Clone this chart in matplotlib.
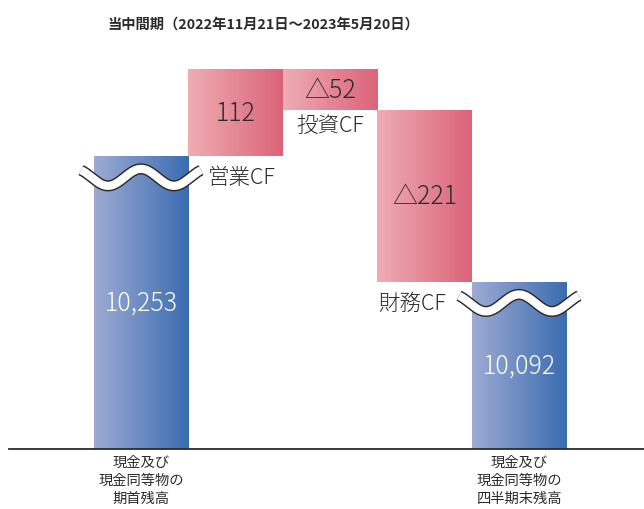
import numpy as np
import matplotlib
matplotlib.use('Agg')
import matplotlib.pyplot as plt
from matplotlib.colors import LinearSegmentedColormap

plt.rcParams['font.family'] = ['Noto Sans CJK JP', 'DejaVu Sans']

# data
title = '当中間期（2022年11月21日～2023年5月20日）'
open_balance = 10253
close_balance = 10092
flow_names = ['営業CF', '投資CF', '財務CF']
flow_values = [112, -52, -221]
end_labels = ['現金及び\n現金同等物の\n期首残高', '現金及び\n現金同等物の\n四半期末残高']

blue = ('#9eabd3', '#3b6cb0')
pink = ('#efadb3', '#db6379')
dark = '#2b2b2b'

# layout (pixels of a 644x510 image)
W, H = 644, 510
ppu = 0.78          # pixels per unit on the broken axis
top_px = 70         # pixel row of the highest cumulative value
base_px = 450
x0_px, step_px = 141, 94.5

fig = plt.figure(figsize=(W / 100, H / 100), dpi=100)
ax = fig.add_axes([0, 0, 1, 1])
ax.axis('off')

cum = np.cumsum([open_balance] + flow_values)
top_val = cum.max()
base = top_val - (base_px - top_px) / ppu

xs = np.arange(5)
bottoms = [base]
heights = [open_balance - base]
for i, v in enumerate(flow_values):
    lo = min(cum[i], cum[i + 1])
    bottoms.append(lo)
    heights.append(abs(v))
bottoms.append(base)
heights.append(close_balance - base)

bars = ax.bar(xs, heights, bottom=bottoms, width=1.0, color='none', zorder=2)
grad = np.linspace(0, 1, 256).reshape(1, -1)
for i, b in enumerate(bars):
    c = blue if i in (0, 4) else pink
    cmap = LinearSegmentedColormap.from_list('g%d' % i, list(c))
    im = ax.imshow(grad, cmap=cmap, aspect='auto', interpolation='bilinear',
                   extent=[b.get_x(), b.get_x() + b.get_width(),
                           b.get_y(), b.get_y() + b.get_height()], zorder=2)
    im.set_clip_path(b)

ax.set_xlim(-x0_px / step_px, (W - x0_px) / step_px)
ax.set_ylim(top_val - (H - top_px) / ppu, top_val + top_px / ppu)

# baseline
ax.axhline(base, xmin=9 / W, xmax=1, color=dark, lw=1.3, zorder=3)

# wavy break marks on the balance bars
def wave(xc, yc):
    t = np.linspace(-60, 60, 200)
    wx = xc + t / step_px
    wy = yc + 8.5 * np.cos(2 * np.pi * t / 66) / ppu
    ax.plot(wx, wy, color=dark, lw=8.0, solid_capstyle='butt', zorder=4)
    ax.plot(wx, wy, color='white', lw=5.9, solid_capstyle='butt', zorder=5)

wave_off = 21 / ppu
wave(0, open_balance - wave_off)
wave(4, close_balance - wave_off)

# value labels
fs_val = 18
ax.text(0, (open_balance + base) / 2, f'{open_balance:,}', color='white',
        fontsize=fs_val, fontweight='light', ha='center', va='center', zorder=6)
ax.text(4, (close_balance + base) / 2, f'{close_balance:,}', color='white',
        fontsize=fs_val, fontweight='light', ha='center', va='center', zorder=6)
for i, v in enumerate(flow_values):
    txt = str(v) if v > 0 else '△' + str(-v)
    ax.text(i + 1, bottoms[i + 1] + heights[i + 1] / 2, txt, color=dark,
            fontsize=fs_val, fontweight='light', ha='center', va='center', zorder=6)

# flow names
fs_name = 15.5
ax.text((208 - x0_px) / step_px, open_balance - wave_off, flow_names[0],
        color=dark, fontsize=fs_name, fontweight='light', ha='left', va='center', zorder=6)
ax.text(2, bottoms[2] - 4 / ppu, flow_names[1], color=dark, fontweight='light',
        fontsize=fs_name, ha='center', va='top', zorder=6)
ax.text((446 - x0_px) / step_px, close_balance - wave_off, flow_names[2],
        color=dark, fontsize=fs_name, fontweight='light', ha='right', va='center', zorder=6)

# category labels under the baseline
for xi, lab in zip([0, 4], end_labels):
    ax.text(xi, base - 6 / ppu, lab, color=dark, fontsize=10.3, ha='center',
            va='top', linespacing=1.35, zorder=6)

fig.text(263 / W, 1 - 25 / H, title, color=dark, fontsize=10.3,
         fontweight='bold', ha='center', va='center')

fig.savefig('out.png', dpi=100)
